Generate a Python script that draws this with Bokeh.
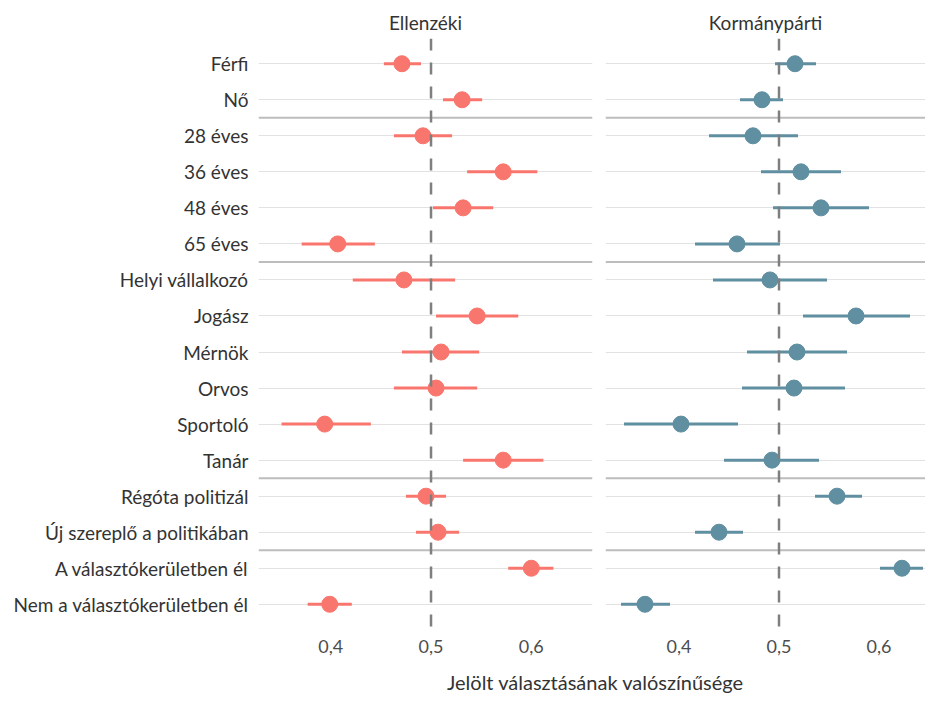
from bokeh.plotting import figure
from bokeh.models import ColumnDataSource, FactorRange, Range1d, Span, FixedTicker, Label
from bokeh.layouts import row, column
from bokeh.embed import file_html
from bokeh.resources import INLINE

# ---------------- data ----------------
categories = ["Férfi", "Nő", "28 éves", "36 éves", "48 éves", "65 éves",
              "Helyi vállalkozó", "Jogász", "Mérnök", "Orvos", "Sportoló", "Tanár",
              "Régóta politizál", "Új szereplő a politikában",
              "A választókerületben él", "Nem a választókerületben él"]
groups = ["nem", "nem", "kor", "kor", "kor", "kor",
          "fog", "fog", "fog", "fog", "fog", "fog",
          "tap", "tap", "lak", "lak"]

ell_est = [0.471, 0.531, 0.492, 0.572, 0.532, 0.407, 0.473, 0.546, 0.510, 0.505, 0.394, 0.572, 0.495, 0.507, 0.600, 0.399]
ell_lo  = [0.453, 0.512, 0.463, 0.536, 0.502, 0.371, 0.422, 0.505, 0.471, 0.463, 0.351, 0.532, 0.475, 0.485, 0.577, 0.377]
ell_hi  = [0.490, 0.551, 0.521, 0.606, 0.562, 0.444, 0.524, 0.587, 0.548, 0.546, 0.440, 0.612, 0.515, 0.528, 0.622, 0.421]

kor_est = [0.516, 0.483, 0.474, 0.522, 0.542, 0.458, 0.491, 0.577, 0.518, 0.515, 0.402, 0.493, 0.558, 0.440, 0.623, 0.366]
kor_lo  = [0.496, 0.461, 0.430, 0.482, 0.494, 0.416, 0.434, 0.524, 0.468, 0.463, 0.345, 0.445, 0.536, 0.416, 0.601, 0.342]
kor_hi  = [0.537, 0.504, 0.519, 0.562, 0.590, 0.501, 0.548, 0.631, 0.568, 0.566, 0.459, 0.540, 0.583, 0.464, 0.644, 0.391]

panels = ["Ellenzéki", "Kormánypárti"]
x_ticks = [0.4, 0.5, 0.6]
x_tick_labels = ["0,4", "0,5", "0,6"]
reference_value = 0.5
x_title = "Jelölt választásának valószínűsége"

# ---------------- style ----------------
FONT = "Lato"
TEXT = "#333333"
COLORS = ["#F8766D", "#5F8FA0"]
TOP, FRAME_H, BOTTOM = 38, 591, 40

y_range = FactorRange(factors=categories[::-1], range_padding=0.2,
                      range_padding_units="absolute")

sep_y = [(categories[i], -0.5) for i in range(len(categories) - 1)
         if groups[i] != groups[i + 1]]


def make_panel(title, est, lo, hi, color, xlim, frame_w, left_border, right_border, show_y):
    p = figure(width=left_border + frame_w + right_border, height=TOP + FRAME_H + BOTTOM,
               x_range=Range1d(*xlim), y_range=y_range,
               output_backend="svg", toolbar_location=None,
               min_border_left=left_border, min_border_right=right_border,
               min_border_top=TOP, min_border_bottom=BOTTOM)
    p.outline_line_color = None
    p.background_fill_color = "white"
    p.border_fill_color = "white"

    p.title.text = title
    p.title.align = "center"
    p.title.text_font = FONT
    p.title.text_font_size = "19px"
    p.title.text_font_style = "normal"
    p.title.text_color = TEXT

    p.xgrid.visible = False
    p.ygrid.grid_line_color = "#E2E2E2"
    p.ygrid.grid_line_width = 1.2

    p.xaxis.ticker = FixedTicker(ticks=x_ticks)
    p.xaxis.major_label_overrides = dict(zip(x_ticks, x_tick_labels))
    p.xaxis.axis_label = None
    p.xaxis.axis_line_color = None
    p.xaxis.major_tick_line_color = None
    p.xaxis.minor_tick_line_color = None
    p.xaxis.major_tick_out = 0
    p.xaxis.major_tick_in = 0
    p.xaxis.major_label_standoff = 10
    p.xaxis.major_label_text_font = FONT
    p.xaxis.major_label_text_font_size = "18px"
    p.xaxis.major_label_text_color = "#4D4D4D"

    if show_y:
        p.yaxis.axis_line_color = None
        p.yaxis.major_tick_line_color = None
        p.yaxis.minor_tick_line_color = None
        p.yaxis.major_tick_out = 0
        p.yaxis.major_tick_in = 0
        p.yaxis.major_label_standoff = 10
        p.yaxis.major_label_text_font = FONT
        p.yaxis.major_label_text_font_size = "19px"
        p.yaxis.major_label_text_color = TEXT
    else:
        p.yaxis.visible = False

    # group separators
    sep = ColumnDataSource(dict(x0=[xlim[0]] * len(sep_y), x1=[xlim[1]] * len(sep_y),
                                y=sep_y))
    p.segment(x0="x0", x1="x1", y0="y", y1="y", source=sep,
              line_color="#BDBDBD", line_width=2)

    src = ColumnDataSource(dict(cat=categories, est=est, lo=lo, hi=hi))
    p.segment(x0="lo", x1="hi", y0="cat", y1="cat", source=src,
              line_color=color, line_width=3)
    p.scatter(x="est", y="cat", source=src, size=16,
              fill_color=color, line_color=color)

    p.add_layout(Span(location=reference_value, dimension="height",
                      line_color="#7F7F7F", line_width=2.5, line_dash="12 12"))
    return p


p1 = make_panel(panels[0], ell_est, ell_lo, ell_hi, COLORS[0],
                (0.328, 0.661), 334, 258, 6, True)
p2 = make_panel(panels[1], kor_est, kor_lo, kor_hi, COLORS[1],
                (0.3265, 0.6465), 320, 7, 0, False)

total_w = p1.width + p2.width
p3 = figure(width=total_w, height=693 - p1.height, x_range=Range1d(0, total_w),
            y_range=Range1d(0, 1),
            output_backend="svg", toolbar_location=None,
            min_border_left=0, min_border_right=0, min_border_top=0, min_border_bottom=0)
p3.axis.visible = False
p3.grid.visible = False
p3.outline_line_color = None
p3.add_layout(Label(x=595, y=0.5, text=x_title, text_align="center",
                    text_baseline="middle", text_font=FONT, text_font_size="20px",
                    text_color=TEXT))

layout = column(row(p1, p2), p3)

with open("out.html", "w") as f:
    f.write(file_html(layout, INLINE))
